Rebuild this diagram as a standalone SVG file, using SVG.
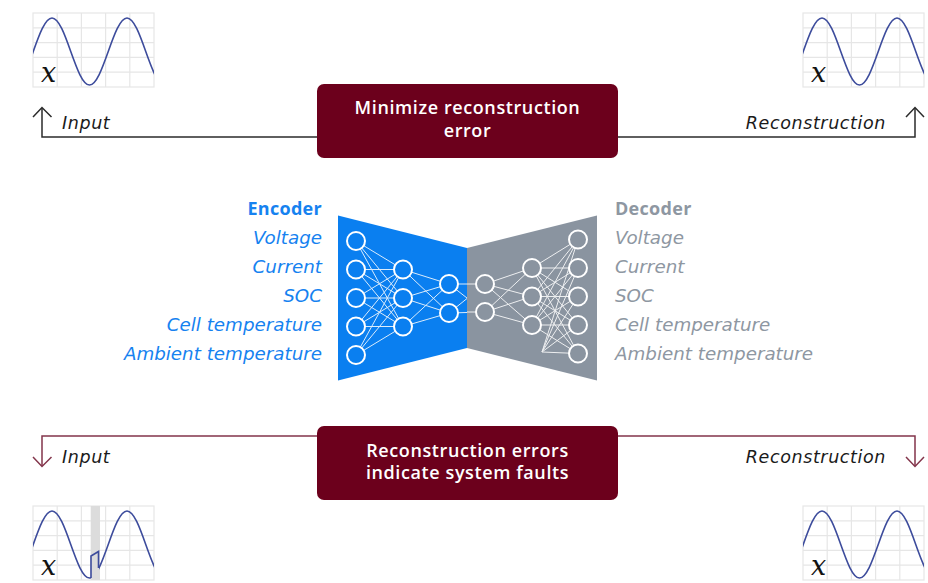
<svg xmlns="http://www.w3.org/2000/svg" width="928" height="583" viewBox="0 0 928 583">
  <style>
    .grid { stroke: #e6e6e6; stroke-width: 1.2; fill: none; }
    .wave { stroke: #3d4c9c; stroke-width: 1.6; fill: none; }
    .var { font-family: "DejaVu Serif", "Liberation Serif", serif; font-style: italic; font-size: 27px; fill: #111; }
    .lbl { font-family: "DejaVu Sans", "Liberation Sans", sans-serif; font-style: oblique; font-size: 17.5px; letter-spacing: 0.6px; fill: #1a1a1a; }
    .wire-top { stroke: #2b2b2b; stroke-width: 1.5; fill: none; }
    .wire-bot { stroke: #83354b; stroke-width: 1.5; fill: none; }
    .box { fill: #6c001c; }
    .boxtxt { font-family: "Open Sans", "Liberation Sans", sans-serif; font-weight: 600; font-size: 18px; letter-spacing: 0.6px; fill: #fff; text-anchor: middle; }
    .feat { font-family: "DejaVu Sans", "Liberation Sans", sans-serif; font-style: oblique; font-size: 18.3px; }
    .head { font-family: "Open Sans", "Liberation Sans", sans-serif; font-weight: 700; font-size: 18px; letter-spacing: 0.3px; }
    .enc { fill: #1682f0; }
    .dec { fill: #8e97a2; }
    .edge { stroke: #ffffff; stroke-width: 1; opacity: 0.85; }
    .n-enc { fill: #0a7ff0; stroke: #fff; stroke-width: 2; }
    .n-dec { fill: #8a94a0; stroke: #fff; stroke-width: 2; }
  </style>
  <defs>
    <clipPath id="chartClip"><rect x="33" y="13" width="121" height="74"/></clipPath>
    <clipPath id="leftPart"><rect x="33" y="13" width="58" height="74"/></clipPath>
    <clipPath id="rightPart"><rect x="99" y="13" width="55" height="74"/></clipPath>
    <g id="grid">
      <rect class="grid" x="33" y="13" width="121" height="74"/>
      <path class="grid" d="M57.2,13V87M81.4,13V87M105.6,13V87M129.8,13V87M33,27.8H154M33,42.6H154M33,57.4H154M33,72.2H154"/>
    </g>
    <path id="sine" d="M14.5,85 C28.1,85 38.4,18 52,18 C65.6,18 75.9,85 89.5,85 C103.1,85 113.4,18 127,18 C140.6,18 150.9,85 164.5,85"/>
    <g id="chart">
      <use href="#grid"/>
      <use href="#sine" class="wave" clip-path="url(#chartClip)"/>
      <text class="var" x="41" y="82">x</text>
    </g>
  </defs>

  <rect width="928" height="583" fill="#ffffff"/>

  <!-- signal plots -->
  <g id="plot-input-top"><use href="#chart"/></g>
  <g id="plot-recon-top"><use href="#chart" transform="translate(770,0)"/></g>
  <g id="plot-recon-bottom"><use href="#chart" transform="translate(770,493)"/></g>
  <g id="plot-input-bottom" transform="translate(0,493)">
    <use href="#grid"/>
    <rect x="90.7" y="13" width="9.3" height="74" fill="#dcdcdc"/>
    <use href="#sine" class="wave" clip-path="url(#leftPart)"/>
    <use href="#sine" class="wave" clip-path="url(#rightPart)"/>
    <path class="wave" d="M91,84.9 L91,63 L98.5,58.5 L98.5,75"/>
    <text class="var" x="41" y="82">x</text>
  </g>

  <!-- connectors -->
  <g id="connectors">
    <path class="wire-top" d="M42,108 V137 H317 M618,137 H915 V108"/>
    <path class="wire-top" d="M33,117 L42,107.5 L51.5,117 M906,117 L915,107.5 L924,117"/>
    <path class="wire-bot" d="M42,466 V436 H317 M618,436 H915 V466"/>
    <path class="wire-bot" d="M33,457 L42,466.5 L51.5,457 M906,457 L915,466.5 L924,457"/>
  </g>
  <text class="lbl" x="62" y="129">Input</text>
  <text class="lbl" x="886" y="129" text-anchor="end">Reconstruction</text>
  <text class="lbl" x="62" y="463">Input</text>
  <text class="lbl" x="886" y="463" text-anchor="end">Reconstruction</text>

  <!-- objective boxes -->
  <g id="box-minimize">
    <rect class="box" x="317" y="84" width="301" height="74" rx="7"/>
    <text class="boxtxt" x="467.5" y="114">Minimize reconstruction</text>
    <text class="boxtxt" x="467.5" y="137">error</text>
  </g>
  <g id="box-faults">
    <rect class="box" x="317" y="426" width="301" height="74" rx="7"/>
    <text class="boxtxt" x="467.5" y="457">Reconstruction errors</text>
    <text class="boxtxt" x="467.5" y="479">indicate system faults</text>
  </g>

  <!-- encoder -->
  <g id="encoder">
    <polygon points="338,215.5 467,248 467,348 338,380.5" fill="#0a7ff0"/>
    <g class="edge">
      <path d="M356,241L403,269.5M356,241L403,298M356,241L403,326.5
               M356,269.5L403,269.5M356,269.5L403,298M356,269.5L403,326.5
               M356,298L403,269.5M356,298L403,298M356,298L403,326.5
               M356,326.5L403,269.5M356,326.5L403,298M356,326.5L403,326.5
               M356,355L403,269.5M356,355L403,298M356,355L403,326.5
               M403,269.5L449,284M403,269.5L449,313M403,298L449,284M403,298L449,313M403,326.5L449,284M403,326.5L449,313
               M449,284L485,284M449,284L485,312M449,313L485,284M449,313L485,312" stroke="#fff"/>
    </g>
    <circle class="n-enc" cx="356" cy="241" r="9"/>
    <circle class="n-enc" cx="356" cy="269.5" r="9"/>
    <circle class="n-enc" cx="356" cy="298" r="9"/>
    <circle class="n-enc" cx="356" cy="326.5" r="9"/>
    <circle class="n-enc" cx="356" cy="355" r="9"/>
    <circle class="n-enc" cx="403" cy="269.5" r="9"/>
    <circle class="n-enc" cx="403" cy="298" r="9"/>
    <circle class="n-enc" cx="403" cy="326.5" r="9"/>
  </g>

  <!-- decoder -->
  <g id="decoder">
    <polygon points="467,248 597,215.5 597,380.5 467,348" fill="#8a94a0"/>
    <g class="edge">
      <path d="M467,284L485,284M467,312L485,312
               M485,284L532,268M485,284L532,296.5M485,284L532,325M485,312L532,268M485,312L532,296.5M485,312L532,325
               M532,268L578,239.5M532,268L578,268M532,268L578,296.5M532,268L578,325M532,268L578,353.5
               M532,296.5L578,239.5M532,296.5L578,268M532,296.5L578,296.5M532,296.5L578,325M532,296.5L578,353.5
               M532,325L578,239.5M532,325L578,268M532,325L578,296.5M532,325L578,325M532,325L578,353.5
               M542,352L578,239.5M542,352L578,268M542,352L578,296.5M542,352L578,325M542,352L578,353.5" stroke="#fff"/>
    </g>
    <circle class="n-dec" cx="485" cy="284" r="9"/>
    <circle class="n-dec" cx="485" cy="312" r="9"/>
    <circle class="n-dec" cx="532" cy="268" r="9"/>
    <circle class="n-dec" cx="532" cy="296.5" r="9"/>
    <circle class="n-dec" cx="532" cy="325" r="9"/>
    <circle class="n-dec" cx="578" cy="239.5" r="9"/>
    <circle class="n-dec" cx="578" cy="268" r="9"/>
    <circle class="n-dec" cx="578" cy="296.5" r="9"/>
    <circle class="n-dec" cx="578" cy="325" r="9"/>
    <circle class="n-dec" cx="578" cy="353.5" r="9"/>
  </g>
  <!-- bottleneck nodes drawn over the seam -->
  <g id="bottleneck">
    <circle class="n-enc" cx="449" cy="284" r="9"/>
    <circle class="n-enc" cx="449" cy="313" r="9"/>
  </g>

  <!-- feature labels -->
  <g id="encoder-labels" text-anchor="end">
    <text class="head enc" x="322" y="215">Encoder</text>
    <text class="feat enc" x="322" y="244">Voltage</text>
    <text class="feat enc" x="322" y="273">Current</text>
    <text class="feat enc" x="322" y="302">SOC</text>
    <text class="feat enc" x="322" y="331">Cell temperature</text>
    <text class="feat enc" x="322" y="360">Ambient temperature</text>
  </g>
  <g id="decoder-labels">
    <text class="head dec" x="615" y="215">Decoder</text>
    <text class="feat dec" x="615" y="244">Voltage</text>
    <text class="feat dec" x="615" y="273">Current</text>
    <text class="feat dec" x="615" y="302">SOC</text>
    <text class="feat dec" x="615" y="331">Cell temperature</text>
    <text class="feat dec" x="615" y="360">Ambient temperature</text>
  </g>
</svg>
